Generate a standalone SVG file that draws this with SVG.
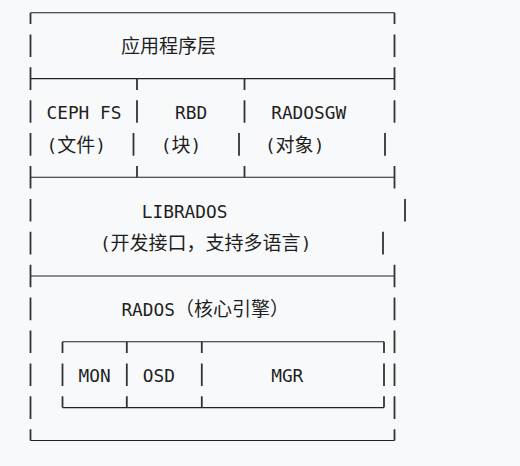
<svg xmlns="http://www.w3.org/2000/svg" width="520" height="466" viewBox="0 0 520 466">
<style>
.bg{fill:#f8f9fa}
.h{stroke:#222;stroke-width:1.1;fill:none}
.v{stroke:#333;stroke-width:1.8;fill:none}
.t{font-family:"DejaVu Sans Mono","Liberation Mono",monospace;font-size:17.8px;fill:#1f1f1f}
.c{font-family:"Noto Sans CJK SC","Noto Sans",sans-serif;font-size:19px}
</style>
<rect class="bg" x="0" y="0" width="520" height="466"/>
<g id="connectors">
  <!-- horizontal rules -->
  <path class="h" d="M30.5 12.8H394.5M30.5 78.6H394.5M30.5 177.3H394.5M30.5 276H394.5M62.5 341.8H384M62.5 407.6H384M30.5 440.5H394.5"/>
  <!-- vertical pieces, row by row -->
  <path class="v" d="
    M30.5 12.8V24.1M394.5 12.8V24.1
    M30.5 34.4V57M394.5 34.4V57
    M30.5 67.3V89.9M394.5 67.3V89.9M137 78.6V89.9M244.5 78.6V89.9
    M30.5 100.2V122.8M137 100.2V122.8M244.5 100.2V122.8M394.5 100.2V122.8
    M30.5 133.1V155.7M133.5 133.1V155.7M239 133.1V155.7M385 133.1V155.7
    M30.5 166V188.6M394.5 166V188.6M137 166V177.3M244.5 166V177.3
    M30.5 198.9V221.5M405 198.9V221.5
    M30.5 231.8V254.4M383 231.8V254.4
    M30.5 264.7V287.3M394.5 264.7V287.3
    M30.5 297.6V320.2M394.5 297.6V320.2
    M30.5 330.5V353.1M394.5 330.5V353.1M62.5 341.8V353.1M126.8 341.8V353.1M201.8 341.8V353.1M384 341.8V353.1
    M30.5 363.4V386M62.5 363.4V386M126.8 363.4V386M201.8 363.4V386M384 363.4V386M394.5 363.4V386
    M30.5 396.3V418.9M394.5 396.3V418.9M62.5 396.3V407.6M126.8 396.3V407.6M201.8 396.3V407.6M384 396.3V407.6
    M30.5 429.2V440.5M394.5 429.2V440.5"/>
</g>
<g id="app-layer">
  <text class="t" x="121" y="52.5"><tspan class="c">应用程序层</tspan></text>
</g>
<g id="cephfs">
  <text class="t" x="46.5" y="118.8">CEPH FS</text>
  <text class="t" x="46.5" y="151.5">(<tspan class="c">文件</tspan>)</text>
</g>
<g id="rbd">
  <text class="t" x="175" y="118.8">RBD</text>
  <text class="t" x="160.8" y="151.5">(<tspan class="c">块</tspan>)</text>
</g>
<g id="radosgw">
  <text class="t" x="271.2" y="118.8">RADOSGW</text>
  <text class="t" x="264.9" y="151.5">(<tspan class="c">对象</tspan>)</text>
</g>
<g id="librados">
  <text class="t" x="141.8" y="217.5">LIBRADOS</text>
  <text class="t" x="99.9" y="250.2">(<tspan class="c">开发接口，支持多语言</tspan>)</text>
</g>
<g id="rados">
  <text class="t" x="121.4" y="316.2">RADOS<tspan class="c">（核心引擎）</tspan></text>
</g>
<g id="mon">
  <text class="t" x="78.6" y="382">MON</text>
</g>
<g id="osd">
  <text class="t" x="142.8" y="382">OSD</text>
</g>
<g id="mgr">
  <text class="t" x="271.2" y="382">MGR</text>
</g>
</svg>
